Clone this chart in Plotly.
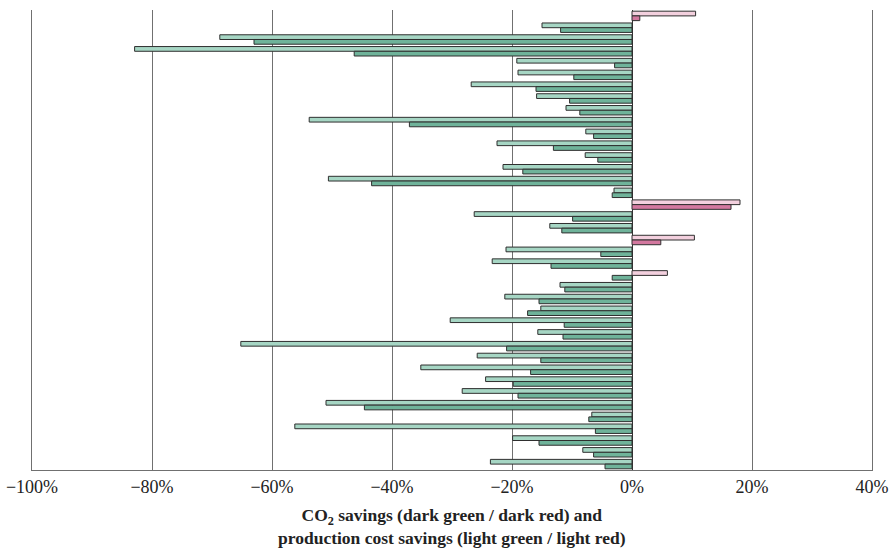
import plotly.graph_objects as go

# Pair index (top to bottom)
categories = [f"Case {i}" for i in range(1, 40)]

# Production cost savings (light bars), %
cost_savings = [10.6, -15.0, -68.7, -82.9, -19.2, -19.0, -26.8, -15.9, -11.0, -53.8,
                -7.7, -22.5, -7.8, -21.5, -50.6, -3.0, 18.0, -26.3, -13.7, 10.4,
                -21.0, -23.3, 5.9, -12.0, -21.2, -15.2, -30.3, -15.7, -65.2, -25.8,
                -35.2, -24.4, -28.3, -51.0, -6.7, -56.2, -19.9, -8.2, -23.6]

# CO2 savings (dark bars), %
co2_savings = [1.3, -11.9, -63.0, -46.3, -2.9, -9.7, -16.0, -10.4, -8.7, -37.1,
               -6.4, -13.1, -5.7, -18.2, -43.4, -3.3, 16.5, -9.9, -11.7, 4.8,
               -5.2, -13.5, -3.3, -11.2, -15.5, -17.4, -11.3, -11.5, -20.9, -15.2,
               -16.9, -19.8, -19.0, -44.6, -7.2, -6.1, -15.5, -6.4, -4.5]

tick_vals = [-100, -80, -60, -40, -20, 0, 20, 40]
tick_text = ["\u2212100%", "\u221280%", "\u221260%", "\u221240%", "\u221220%", "0%", "20%", "40%"]

LIGHT_GREEN = "#a6d6c4"
DARK_GREEN = "#6fb39a"
LIGHT_RED = "#f3d0de"
DARK_RED = "#d3789f"

light_colors = [LIGHT_RED if v > 0 else LIGHT_GREEN for v in cost_savings]
dark_colors = [DARK_RED if v > 0 else DARK_GREEN for v in co2_savings]

fig = go.Figure()
fig.add_trace(go.Bar(
    y=categories, x=cost_savings, orientation="h",
    marker=dict(color=light_colors, line=dict(color="#2f2f2f", width=1)),
    name="Production cost savings", showlegend=False,
))
fig.add_trace(go.Bar(
    y=categories, x=co2_savings, orientation="h",
    marker=dict(color=dark_colors, line=dict(color="#2f2f2f", width=1)),
    name="CO2 savings", showlegend=False,
))

fig.update_layout(
    width=896, height=548,
    margin=dict(l=32, r=24, t=10, b=78),
    paper_bgcolor="white", plot_bgcolor="white",
    barmode="group", bargap=0.2, bargroupgap=0.0,
    font=dict(family="Liberation Serif, Times New Roman, serif", color="#222"),
    xaxis=dict(
        range=[-100, 40], tickvals=tick_vals, ticktext=tick_text,
        showgrid=True, gridcolor="#707070", gridwidth=1,
        zeroline=True, zerolinecolor="#333333", zerolinewidth=1,
        showline=True, linecolor="#707070", linewidth=1,
        ticks="", ticklen=0, tickfont=dict(size=18, family="Liberation Serif, serif", color="#222"),
        ticklabeloverflow="allow",
        automargin=False, fixedrange=True,
    ),
    yaxis=dict(
        autorange="reversed", showticklabels=False, showgrid=False,
        zeroline=False, showline=True, mirror=True, linecolor="#707070", linewidth=1,
        ticks="", automargin=False, fixedrange=True,
    ),
    annotations=[dict(
        x=0.5, xref="paper", y=-0.072, yref="paper", yanchor="top",
        showarrow=False, align="center",
        text="<b>CO<sub>2</sub> savings (dark green / dark red) and<br>production cost savings (light green / light red)</b>",
        font=dict(size=17.5, family="Liberation Serif, serif", color="#222"),
    )],
)

fig.write_html("out.html", config={"displayModeBar": False},
               post_script="document.body.style.margin='0';")
